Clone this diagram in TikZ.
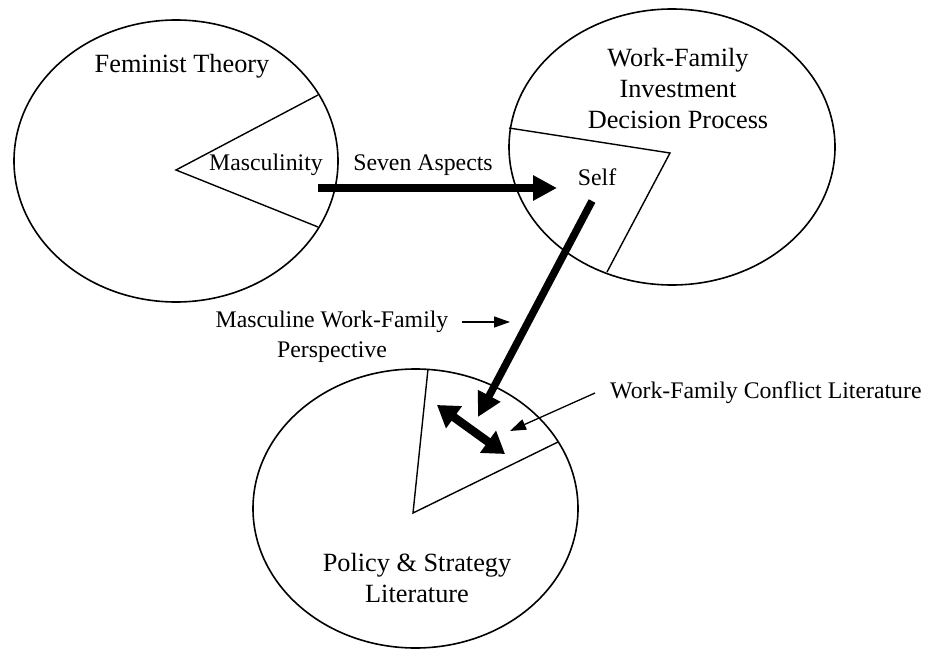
\documentclass[tikz,border=0pt]{standalone}
\usepackage{fontspec}
\setmainfont{Liberation Serif}
\usetikzlibrary{shapes.geometric,arrows.meta}
\begin{document}
\begin{tikzpicture}[x=1pt,y=-1pt,
  circ/.style={draw,ellipse,line width=1.6pt,inner sep=0pt},
  wedge/.style={draw,line width=1.4pt,line join=miter},
  bigtxt/.style={font=\fontsize{26.3}{31}\selectfont,align=center,inner sep=0pt},
  smalltxt/.style={font=\fontsize{23.8}{30}\selectfont,align=center,inner sep=0pt},
  thick arrow/.style={line width=7.5pt,-{Triangle[length=24pt,width=24pt]}},
  dbl arrow/.style={line width=8.5pt,{Triangle[length=21pt,width=26pt]}-{Triangle[length=21pt,width=26pt]}},
  thin arrow/.style={line width=1.3pt,-{Triangle[length=16pt,width=11pt]}}
]
\useasboundingbox (0,0) rectangle (934,650);
% ellipses
\node[circ,minimum width=324pt,minimum height=282pt] (e1) at (176,161) {};
\node[circ,minimum width=326pt,minimum height=276pt] (e2) at (672,147) {};
\node[circ,minimum width=325pt,minimum height=279pt] (e3) at (415.5,508.5) {};
% wedges
\draw[wedge] (318,95) -- (176,170) -- (318,227);
\draw[wedge] (509,128) -- (670,153) -- (607,272);
\draw[wedge] (428,369) -- (413,513) -- (558,442);
% texts
\node[bigtxt] (ft) at (182,66) {Feminist Theory};
\node[smalltxt] (masc) at (266,165) {Masculinity};
\node[smalltxt] (seven) at (423,165) {Seven Aspects};
\node[bigtxt] (wf) at (678,89) {Work-Family\\Investment\\Decision Process};
\node[smalltxt] (self) at (597,177) {Self};
\node[smalltxt] (mwf) at (332,337) {Masculine Work-Family\\Perspective};
\node[smalltxt,anchor=west] (wfc) at (610,393) {Work-Family Conflict Literature};
\node[bigtxt] (pol) at (417,578) {Policy \& Strategy\\Literature};
% connectors
\coordinate (a1s) at (318,188);
\coordinate (a1e) at (557,188);
\draw[thick arrow] (a1s) -- (a1e);
\coordinate (a2s) at (592,201);
\coordinate (a2e) at (478,417);
\draw[thick arrow] (a2s) -- (a2e);
\coordinate (d1) at (437,405);
\coordinate (d2) at (505,454);
\draw[dbl arrow] (d1) -- (d2);
\coordinate (t1s) at (595,393);
\coordinate (t1e) at (510,431);
\draw[thin arrow] (t1s) -- (t1e);
\coordinate (t2s) at (462,322);
\coordinate (t2e) at (510,322);
\draw[thin arrow] (t2s) -- (t2e);
\end{tikzpicture}
\end{document}
